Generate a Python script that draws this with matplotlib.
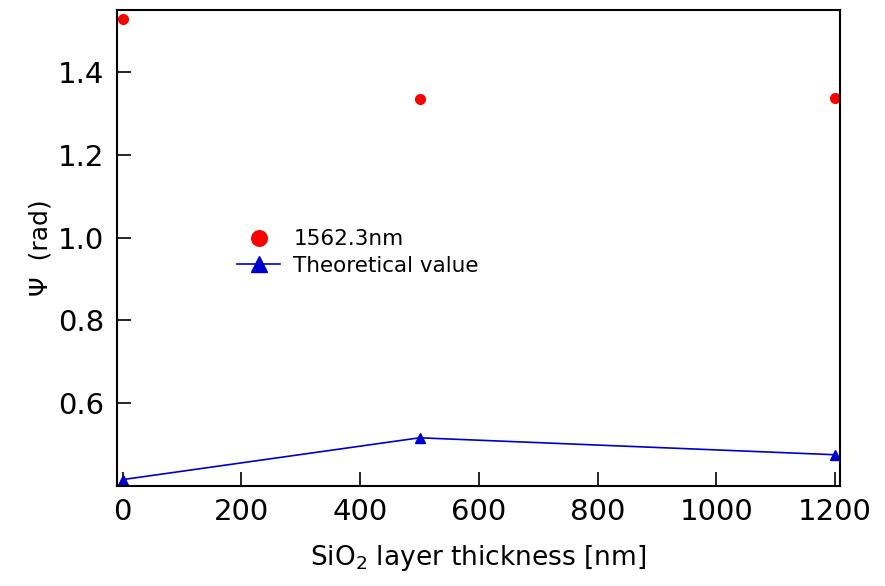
import matplotlib
matplotlib.use("Agg")
import matplotlib.pyplot as plt

# SiO2 layer thickness (nm)
thickness = [0, 500, 1200]
# measured Psi at 1562.3 nm
psi_measured = [1.528, 1.334, 1.337]
# theoretical Psi
psi_theory = [0.415, 0.516, 0.475]

x_ticks = [0, 200, 400, 600, 800, 1000, 1200]
y_ticks = [0.6, 0.8, 1.0, 1.2, 1.4]

plt.rcParams["font.family"] = "DejaVu Sans"

fig = plt.figure(figsize=(8.85, 5.86), dpi=100)
ax = fig.add_axes([0.132, 0.171, 0.817, 0.812])

ax.plot(thickness, psi_measured, linestyle="none", marker="o", markersize=7,
        color="#ff0000", label="1562.3nm")
ax.plot(thickness, psi_theory, linestyle="-", linewidth=1.2, marker="^", markersize=7,
        color="#0000cc", label="Theoretical value")

ax.set_xlim(-10, 1208)
ax.set_ylim(0.4, 1.55)
ax.set_xticks(x_ticks)
ax.set_yticks(y_ticks)
ax.tick_params(direction="in", length=10, width=1.2, labelsize=21, pad=9,
               top=False, right=False)
for s in ax.spines.values():
    s.set_linewidth(1.5)

ax.set_xlabel("SiO$_2$ layer thickness [nm]", fontsize=19, labelpad=12)
ax.set_ylabel("\u03a8  (rad)", fontsize=18, labelpad=4)

ax.legend(loc="upper left", bbox_to_anchor=(0.14, 0.58), frameon=False,
          fontsize=15.5, markerscale=1.6, handlelength=2.0, handletextpad=0.6,
          labelspacing=0.3)

fig.savefig("out.png", dpi=100)
